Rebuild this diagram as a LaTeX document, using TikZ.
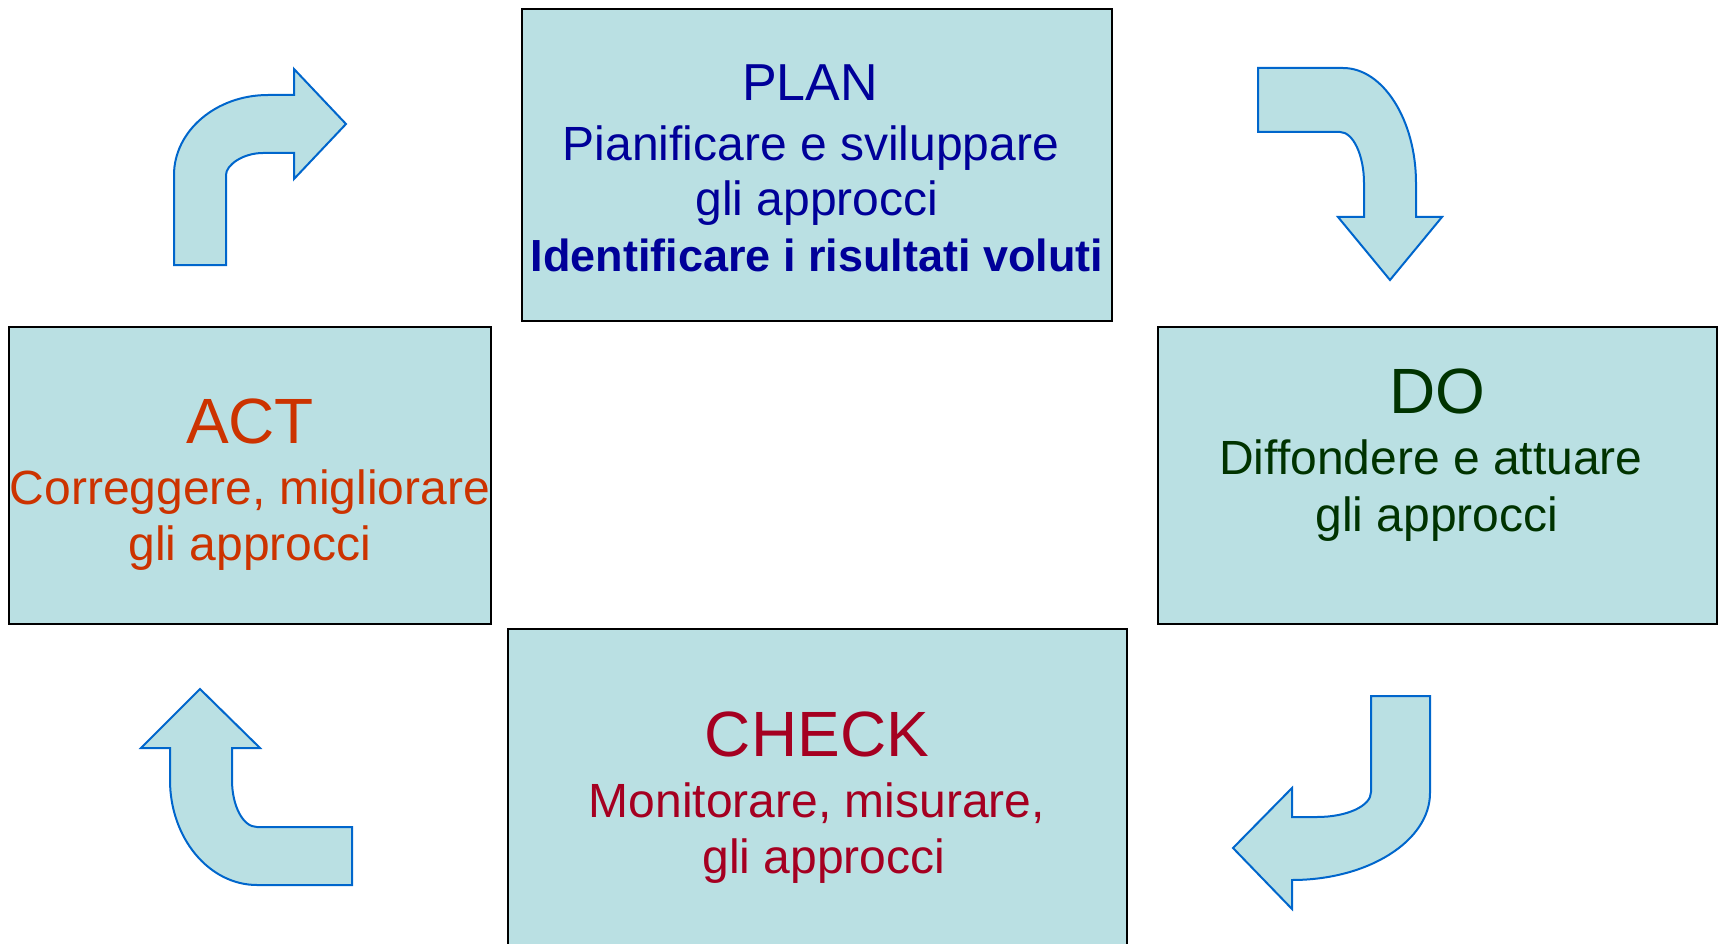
\documentclass[tikz,border=0pt]{standalone}
\usepackage{fontspec}
\setmainfont{Liberation Sans}
\definecolor{boxfill}{HTML}{BAE0E3}
\definecolor{arrowline}{HTML}{0066CC}
\definecolor{plancol}{HTML}{000099}
\definecolor{docol}{HTML}{003300}
\definecolor{actcol}{HTML}{CC3300}
\definecolor{checkcol}{HTML}{A50021}
\tikzset{
  phasebox/.style={draw=black, line width=1.5pt, fill=boxfill, inner sep=0pt},
  bigarrow/.style={draw=arrowline, line width=2pt, fill=boxfill, line join=miter},
  title/.style={inner sep=0pt, anchor=base, font=\fontsize{64}{70}\selectfont},
  sub/.style={inner sep=0pt, anchor=base, font=\fontsize{48}{56}\selectfont},
}
\begin{document}
\begin{tikzpicture}[x=1pt, y=-1pt]
\useasboundingbox (0,0) rectangle (1719,944);
% boxes
\node[phasebox, minimum width=590pt, minimum height=312pt] (plan) at (817,165) {};
\node[phasebox, minimum width=559pt, minimum height=297pt] (do) at (1437.5,475.5) {};
\node[phasebox, minimum width=482pt, minimum height=297pt] (act) at (250,475.5) {};
\node[phasebox, minimum width=619pt, minimum height=340pt] (check) at (817.5,799) {};
% texts
\node[title, font=\fontsize{52}{60}\selectfont, text=plancol] (planT) at (810,101) {PLAN};
\node[sub, text=plancol] (plan1) at (811,161) {Pianificare e sviluppare};
\node[sub, text=plancol] (plan2) at (817,216) {gli approcci};
\node[sub, text=plancol, font=\fontsize{45}{52}\selectfont\bfseries] (plan3) at (817,272) {Identificare i risultati voluti};
\node[title, text=docol] (doT) at (1437,413) {DO};
\node[sub, text=docol] (do1) at (1431,474) {Diffondere e attuare};
\node[sub, text=docol] (do2) at (1437,531) {gli approcci};
\node[title, text=actcol] (actT) at (250,443) {ACT};
\node[sub, text=actcol] (act1) at (250,504) {Correggere, migliorare};
\node[sub, text=actcol] (act2) at (250,560) {gli approcci};
\node[title, text=checkcol] (checkT) at (817,756) {CHECK};
\node[sub, text=checkcol] (check1) at (817,817) {Monitorare, misurare,};
\node[sub, text=checkcol] (check2) at (824,873) {gli approcci};
% arrows
\draw[bigarrow] (174,265) -- (174,175) .. controls (174,131) and (216,95) .. (268,95)
  -- (294,95) -- (294,69) -- (346,124) -- (294,179) -- (294,153) -- (263,153)
  .. controls (243,153) and (226,165) .. (226,175) -- (226,265) -- cycle;
\draw[bigarrow] (1258,68) -- (1343,68) .. controls (1383,68) and (1416,120) .. (1416,183)
  -- (1416,217) -- (1442,217) -- (1390,280) -- (1338,217) -- (1364,217) -- (1364,183)
  .. controls (1364,155) and (1353,132) .. (1340,132) -- (1258,132) -- cycle;
\draw[bigarrow] (1371,696) -- (1430,696) -- (1430,793) .. controls (1430,841) and (1368,880) .. (1292,880)
  -- (1292,909) -- (1233,848) -- (1292,788) -- (1292,817) -- (1317,817)
  .. controls (1347,817) and (1371,806) .. (1371,792) -- cycle;
\draw[bigarrow] (200,689) -- (260,748) -- (232,748) -- (232,780)
  .. controls (232,806) and (243,827) .. (257,827) -- (352,827) -- (352,885) -- (257,885)
  .. controls (209,885) and (170,838) .. (170,780) -- (170,748) -- (141,748) -- cycle;
\end{tikzpicture}
\end{document}
